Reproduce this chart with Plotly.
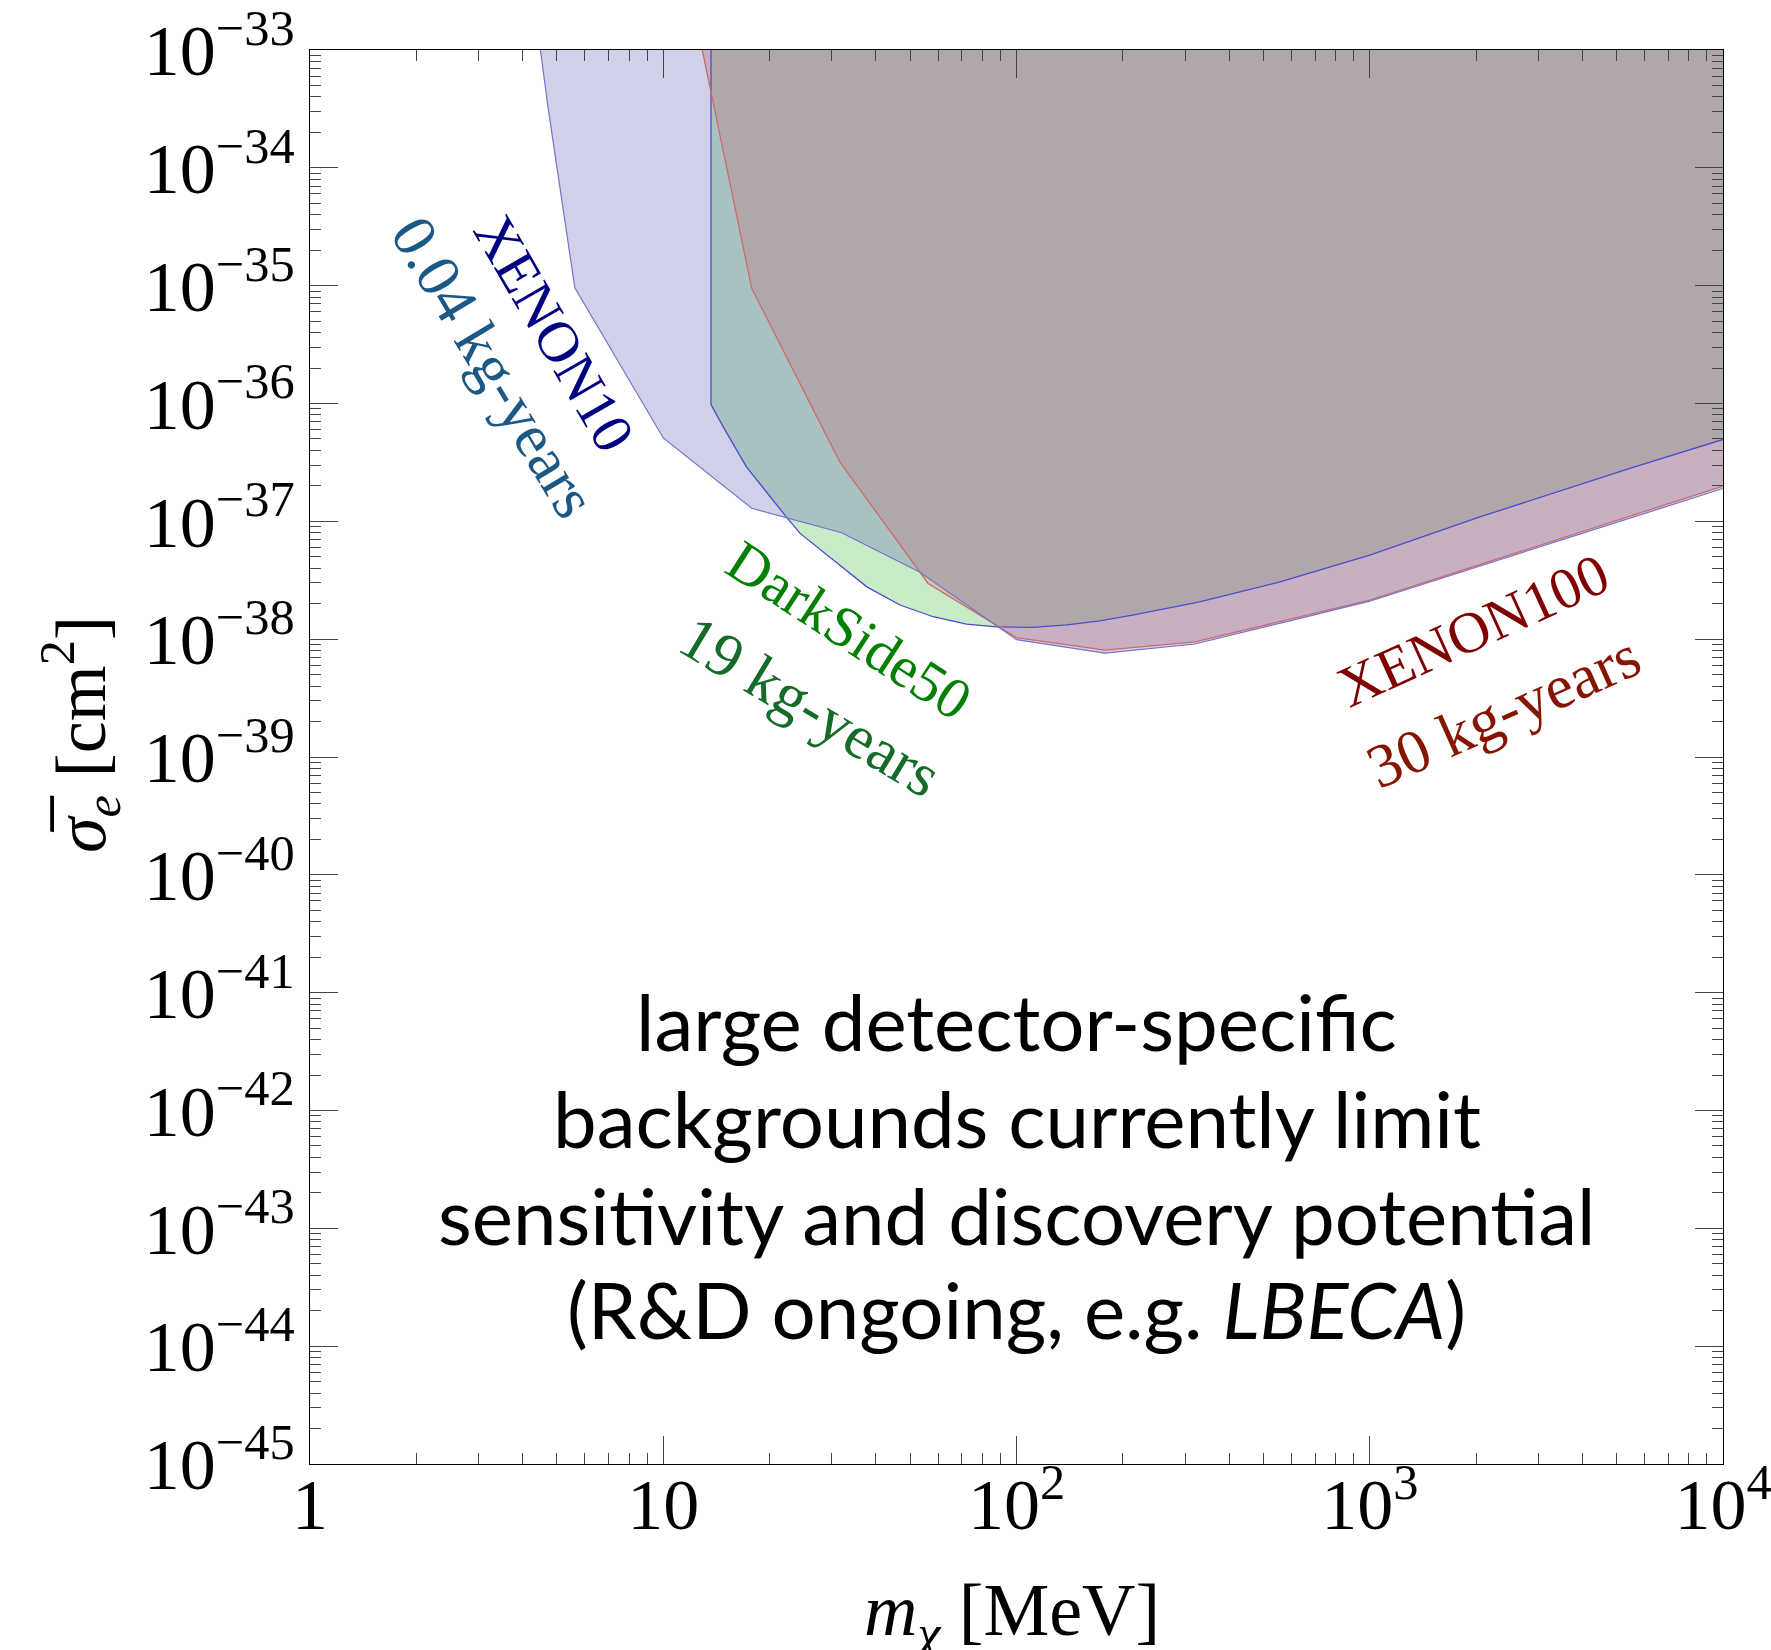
import plotly.graph_objects as go

# ---------------- data ----------------
mass_range = [1, 1e4]          # MeV
sigma_range = [1e-45, 1e-33]   # cm^2

# XENON10 (0.04 kg-years) exclusion boundary
xenon10_mass = [4.49, 4.73, 5.62, 10, 17.8, 32.0, 53.3, 100, 178, 320, 634, 1000, 10000]
xenon10_sigma = [1e-33, 3.1e-34, 9.6e-36, 5.1e-37, 1.29e-37, 8.0e-38, 3.7e-38,
                 9.9e-39, 7.6e-39, 9.1e-39, 1.5e-38, 2.1e-38, 1.9e-37]

# DarkSide50 (19 kg-years) exclusion boundary
darkside_mass = [13.65, 13.65, 14.8, 17.2, 22.3, 24.4, 30.3, 37.7, 46.8, 58.1, 72.2, 87.8,
                 111, 139, 172, 213, 330, 557, 1000, 2051, 5450, 10000]
darkside_sigma = [1e-33, 9.8e-37, 6.3e-37, 2.9e-37, 1.09e-37, 7.9e-38, 4.7e-38, 2.78e-38,
                  1.95e-38, 1.55e-38, 1.34e-38, 1.27e-38, 1.26e-38, 1.32e-38, 1.43e-38,
                  1.60e-38, 2.07e-38, 3.06e-38, 5.16e-38, 1.09e-37, 2.81e-37, 4.95e-37]

# XENON100 (30 kg-years) exclusion boundary
xenon100_mass = [12.9, 17.8, 31.6, 56.2, 100, 178, 320, 634, 1000, 10000]
xenon100_sigma = [1e-33, 9.5e-36, 3.2e-37, 2.97e-38, 1.03e-38, 8.07e-39, 9.5e-39,
                  1.55e-38, 2.14e-38, 1.99e-37]

x_tick_vals = [1, 10, 100, 1000, 10000]
x_tick_text = ["1", "10", "10<sup>2</sup>", "10<sup>3</sup>", "10<sup>4</sup>"]
y_exponents = list(range(-45, -32))
y_tick_vals = [10.0 ** e for e in y_exponents]
y_tick_text = [f"10<sup>\u2212{abs(e)}</sup>" for e in y_exponents]

x_minor = [k * 10.0 ** d for d in range(0, 4) for k in range(2, 10)]
y_minor = [k * 10.0 ** d for d in range(-45, -33) for k in range(2, 10)]

SERIF = "Liberation Serif"


def region(mass, sigma):
    """Close an exclusion boundary along the top edge of the plot."""
    xs = list(mass) + [mass_range[1], mass[0]]
    ys = list(sigma) + [sigma_range[1], sigma_range[1]]
    return xs, ys


fig = go.Figure()

# fills (DarkSide bottom, XENON100 middle, XENON10 top)
for mass, sigma, fc in [
    (darkside_mass, darkside_sigma, "rgba(72,188,72,0.30)"),
    (xenon100_mass, xenon100_sigma, "rgba(224,128,112,0.36)"),
    (xenon10_mass, xenon10_sigma, "rgba(98,98,178,0.30)"),
]:
    xs, ys = region(mass, sigma)
    fig.add_trace(go.Scatter(x=xs, y=ys, mode="lines", fill="toself", fillcolor=fc,
                             line=dict(width=0), hoverinfo="skip", showlegend=False))

# boundary lines
for mass, sigma, lc, w in [
    (darkside_mass, darkside_sigma, "rgb(75,75,205)", 1.3),
    (xenon100_mass, xenon100_sigma, "rgb(205,105,105)", 1.3),
    (xenon10_mass, xenon10_sigma, "rgb(115,115,205)", 1.2),
]:
    fig.add_trace(go.Scatter(x=mass, y=sigma, mode="lines", line=dict(color=lc, width=w),
                             hoverinfo="skip", showlegend=False))

axis_common = dict(
    type="log", showgrid=False, zeroline=False, showline=True, linecolor="black",
    linewidth=1, mirror="allticks", ticks="inside", ticklen=28, tickwidth=1.2,
    tickcolor="#444444", tickmode="array", ticklabeloverflow="allow", automargin=False,
    tickfont=dict(family=SERIF, size=72, color="black"),
)

fig.update_xaxes(range=[0, 4], tickvals=x_tick_vals, ticktext=x_tick_text,
                 ticklabelstandoff=-22,
                 minor=dict(tickmode="array", tickvals=x_minor, ticks="inside", ticklen=11,
                            tickwidth=1.2, tickcolor="#444444"),
                 **axis_common)
fig.update_yaxes(range=[-45, -33], tickvals=y_tick_vals, ticktext=y_tick_text,
                 minor=dict(tickmode="array", tickvals=y_minor, ticks="inside", ticklen=11,
                            tickwidth=1.2, tickcolor="#444444"),
                 **axis_common)

annotations = []


def label(text, x, y, angle, size, color, family=SERIF):
    annotations.append(dict(text=text, x=x, y=y, xref="paper", yref="paper",
                            xanchor="center", yanchor="middle", showarrow=False,
                            textangle=angle, font=dict(family=family, size=size, color=color)))


# experiment labels
label("XENON10", 0.1730, 0.7998, 60, 58, "#000080")
label("0.04 kg-years", 0.1300, 0.7757, 59, 62, "#1b5886")
label("DarkSide50", 0.382, 0.5897, 33, 58, "#008000")
label("19 kg-years", 0.354, 0.5359, 31, 62, "#156b28")
label("XENON100", 0.8230, 0.5897, -24.5, 58, "#800000")
label("30 kg-years", 0.845, 0.5324, -24, 62, "#851500")

# central message
message_lines = [
    "large detector-specific",
    "backgrounds currently limit",
    "sensitivity and discovery potential",
    "(R&D ongoing, e.g. <i>LBECA</i>)",
]
for line, yy in zip(message_lines, [0.3135, 0.2449, 0.1762, 0.1098]):
    label(line, 0.5, yy, 0, 78, "black", family="Lato")

# axis titles
label("<i>m</i><sub><i>\u03c7</i></sub> [MeV]", 0.497, -0.1071, 0, 74, "black")
label("<i>\u03c3\u0305</i><sub><i>e</i></sub> [cm<sup>2</sup>]", -0.163, 0.516, -90, 72, "black")

fig.update_layout(
    width=1771, height=1650,
    margin=dict(l=310, r=48, t=50, b=186, autoexpand=False),
    paper_bgcolor="white", plot_bgcolor="white",
    showlegend=False,
    annotations=annotations,
    font=dict(family=SERIF),
)

fig.write_html("out.html")
